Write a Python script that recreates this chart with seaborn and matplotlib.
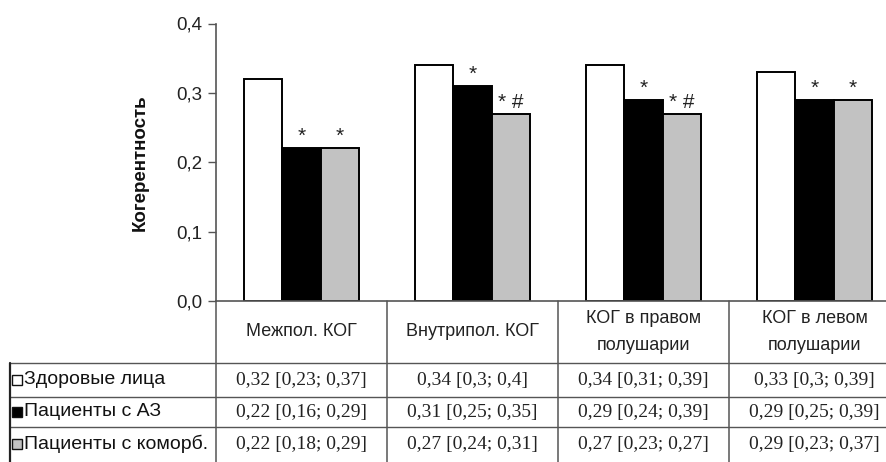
import matplotlib
matplotlib.use("Agg")
import matplotlib.pyplot as plt
import matplotlib.transforms as mtransforms
from matplotlib.lines import Line2D
import seaborn as sns
import pandas as pd

# ---------------- data ----------------
categories = ["Межпол. КОГ", "Внутрипол. КОГ", "КОГ в правом\nполушарии", "КОГ в левом\nполушарии"]
groups = ["Здоровые лица", "Пациенты с АЗ", "Пациенты с коморб."]
healthy = [0.32, 0.34, 0.34, 0.33]
patients_az = [0.22, 0.31, 0.29, 0.29]
patients_comorb = [0.22, 0.27, 0.27, 0.29]
healthy_text = ["0,32 [0,23; 0,37]", "0,34 [0,3; 0,4]", "0,34 [0,31; 0,39]", "0,33 [0,3; 0,39]"]
az_text = ["0,22 [0,16; 0,29]", "0,31 [0,25; 0,35]", "0,29 [0,24; 0,39]", "0,29 [0,25; 0,39]"]
comorb_text = ["0,22 [0,18; 0,29]", "0,27 [0,24; 0,31]", "0,27 [0,23; 0,27]", "0,29 [0,23; 0,37]"]
marks_az = ["*", "*", "*", "*"]
marks_comorb = ["*", "* #", "* #", "*"]
yticks = [0.0, 0.1, 0.2, 0.3, 0.4]
ytick_labels = ["0,0", "0,1", "0,2", "0,3", "0,4"]
ylabel = "Когерентность"

colors = ["#ffffff", "#000000", "#c2c2c2"]

# ---------------- figure ----------------
sns.set_theme(style="white")
plt.rcParams["font.family"] = ["Liberation Sans", "DejaVu Sans"]

W, H = 886, 462
fig = plt.figure(figsize=(W / 100, H / 100), dpi=100)


def fx(px):
    return px / W


def fy(py):
    return 1 - py / H


ax = fig.add_axes([fx(216), fy(301), (900 - 216) / W, (301 - 23.5) / H])

df = pd.DataFrame({
    "category": categories * 3,
    "group": [g for g in groups for _ in categories],
    "value": healthy + patients_az + patients_comorb,
})

sns.barplot(data=df, x="category", y="value", hue="group", order=categories,
            hue_order=groups, palette=colors, saturation=1, width=0.672,
            edgecolor="black", linewidth=1.4, errorbar=None, legend=False, ax=ax)

ax.set_xlim(-0.5, 3.5)
ax.set_ylim(0, 0.4)
ax.set_yticks(yticks)
ax.set_yticklabels(ytick_labels)
ax.set_xticks([])
ax.set_xlabel("")
ax.set_ylabel(ylabel, fontweight="bold", fontsize=13.5, color="#111111")
ax.yaxis.set_label_coords(-0.098, 0.5)
ax.tick_params(axis="y", left=True, length=6, width=1.0, color="#555555",
               pad=4, labelsize=13.5, labelcolor="#222222")
for s in ["top", "right"]:
    ax.spines[s].set_visible(False)
ax.spines["left"].set_color("#555555")
ax.spines["left"].set_linewidth(1.2)
ax.spines["bottom"].set_color("#555555")
ax.spines["bottom"].set_linewidth(1.2)
ax.patch.set_alpha(0)

# significance marks
for container, marks in zip(ax.containers[1:], [marks_az, marks_comorb]):
    for bar, m in zip(container, marks):
        ax.annotate(m, (bar.get_x() + bar.get_width() / 2, bar.get_height()),
                    xytext=(0, 1.5), textcoords="offset points", ha="center",
                    va="bottom", fontsize=15, color="#222222")

# ---------------- table ----------------
line_col = "#555555"
bt = mtransforms.blended_transform_factory(ax.transData, fig.transFigure)
bounds = [-0.5 + i for i in range(len(categories) + 1)]
for b in bounds:
    fig.add_artist(Line2D([b, b], [fy(301), fy(462)], transform=bt,
                          color=line_col, lw=1.1, clip_on=False))
for ypx in [363, 397, 427]:
    fig.add_artist(Line2D([fx(10), 1.02], [fy(ypx), fy(ypx)],
                          transform=fig.transFigure, color=line_col, lw=1.0))
fig.add_artist(Line2D([fx(10), fx(10)], [fy(363), fy(462)],
                      transform=fig.transFigure, color="#222222", lw=1.6))

# header
for i, c in enumerate(categories):
    fig.text(i, fy(332), c, transform=bt, ha="center", va="center",
             fontsize=13, linespacing=1.75, color="#222222")

row_y = [380, 412, 444]
for vals, ypx in zip([healthy_text, az_text, comorb_text], row_y):
    for i, t in enumerate(vals):
        fig.text(i, fy(ypx), t, transform=bt, ha="center", va="center",
                 fontsize=14, family=["Liberation Serif", "DejaVu Serif"],
                 color="#222222")

for g, col, ypx in zip(groups, colors, row_y):
    fig.add_artist(Line2D([fx(17)], [fy(ypx)], transform=fig.transFigure,
                          marker="s", markersize=7.5, markerfacecolor=col,
                          markeredgecolor="#111111", markeredgewidth=1.0,
                          linestyle="none"))
    fig.text(fx(24), fy(ypx), g, ha="left", va="center", fontsize=14,
             color="#111111")

fig.savefig("out.png", dpi=100)
